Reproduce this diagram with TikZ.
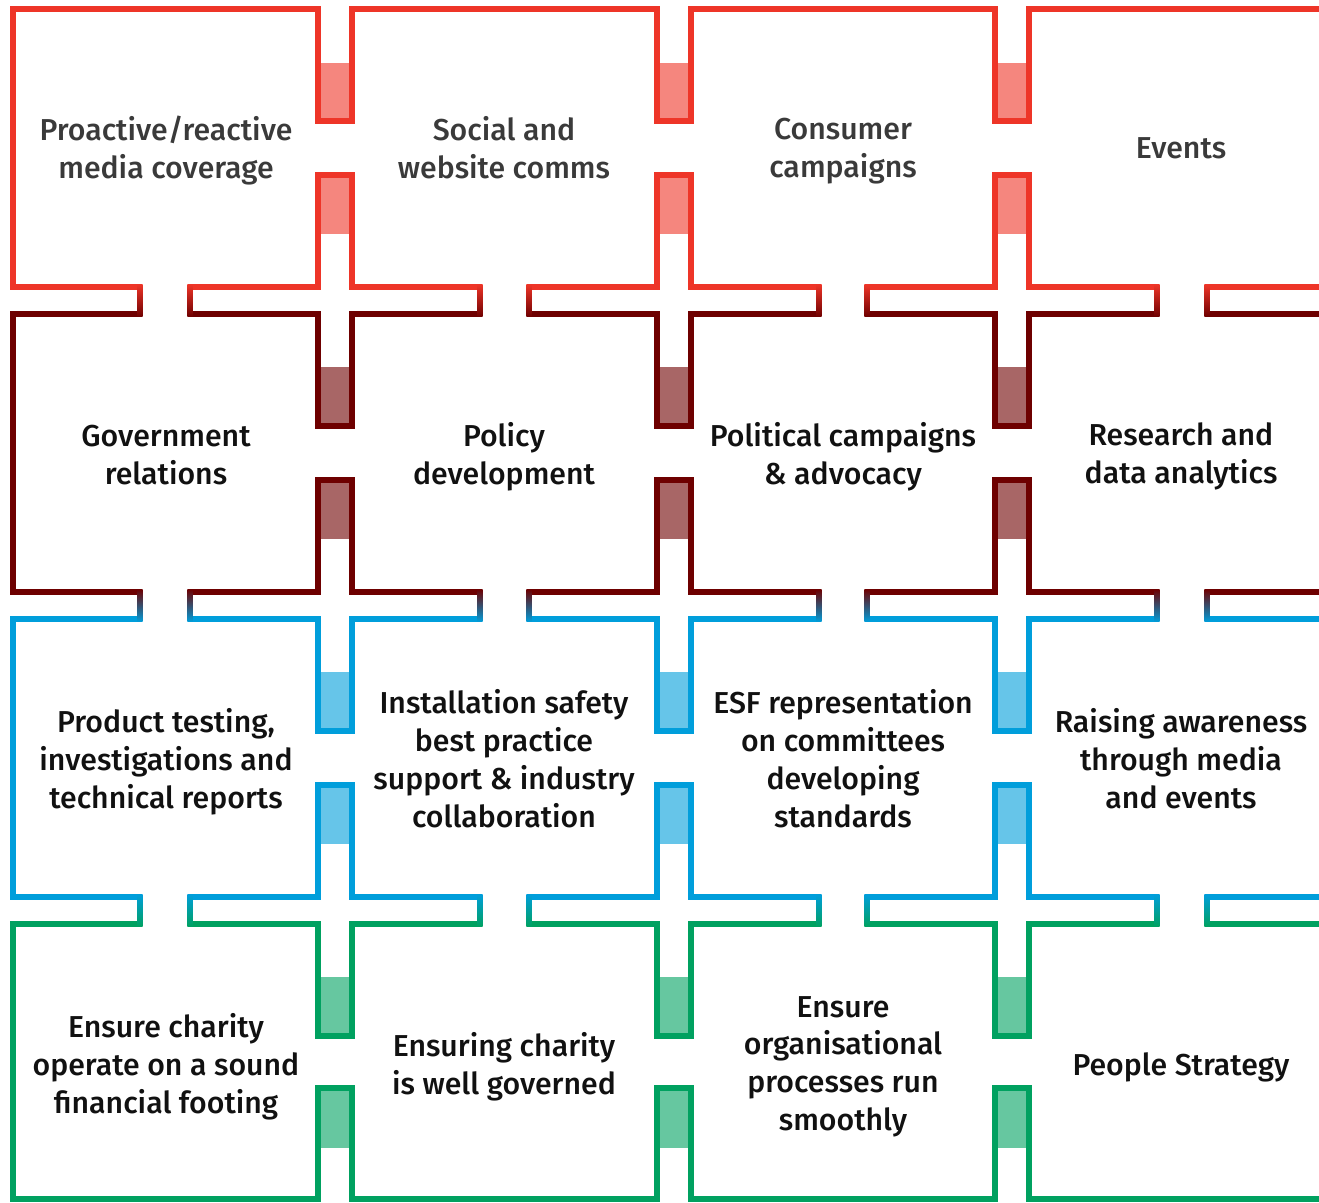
\documentclass[tikz,border=0pt]{standalone}
\usepackage{fontspec}
\setmainfont{Fira Sans}
\newfontfamily\medfont{Fira Sans Medium}
\definecolor{rowA}{RGB}{238,53,40}
\definecolor{rowB}{RGB}{110,0,0}
\definecolor{rowC}{RGB}{0,158,219}
\definecolor{rowD}{RGB}{0,161,96}
\definecolor{inkA}{RGB}{58,58,58}
\definecolor{inkB}{RGB}{17,17,17}
\tikzset{
	outline/.style={line width=1.55pt, line join=miter},
	celltext/.style={align=center, text=inkB, text depth=0pt, font={\medfont\fontsize{8.6}{10.8}\selectfont}},
	toptext/.style={celltext, text=inkA}
}

\begin{document}
\begin{tikzpicture}[x=0.01cm, y=-0.01cm]
\useasboundingbox (0,0) rectangle (1319,1202);
\clip (0,0) rectangle (1319,1202);
%========================
% Borders: top, left, bottom
%========================
\foreach \cx in {335,674,1012}{
	\fill[fill=rowA!60!white] (\cx-17,63) rectangle (\cx+17,121);
	\fill[fill=rowD!60!white] (\cx-17,1088) rectangle (\cx+17,1148);
}
\draw[outline, draw=rowA] (140,287) -| (13,9) -| (318,121) -| (352,9) -| (657,121) -| (691,9) -| (995,121) -| (1029,9) -- (1319,9);
\draw[outline, draw=rowB] (140,314) -| (13,592) -- (140,592);
\draw[outline, draw=rowC] (140,619) -| (13,897) -- (140,897);
\draw[outline, draw=rowD] (140,924) -| (13,1199) -| (318,1088) -| (352,1199) -| (657,1088) -| (691,1199) -| (995,1088) -| (1029,1199) -- (1319,1199);

%========================
% Crosses between the rows
%========================
\foreach \cy/\up/\dn in {300.5/rowA/rowB, 605.5/rowB/rowC, 910.5/rowC/rowD}{
	% arms running out at the right edge
	\draw[outline, draw=\up] (1319,\cy-13.5) -- (1207,\cy-13.5);
	\draw[outline, draw=\dn] (1319,\cy+13.5) -- (1207,\cy+13.5);
	\foreach \cx in {335,674,1012}{
		\fill[fill=\up!60!white] (\cx-17,\cy-125.5) rectangle (\cx+17,\cy-66.5);
		\fill[fill=\dn!60!white] (\cx-17,\cy+66.5) rectangle (\cx+17,\cy+125.5);
		\draw[outline, draw=\up] (\cx-145,\cy-13.5) -| (\cx-17,\cy-125.5) -| (\cx+17,\cy-13.5) -- (\cx+145,\cy-13.5);
		\draw[outline, draw=\dn] (\cx-145,\cy+13.5) -| (\cx-17,\cy+125.5) -| (\cx+17,\cy+13.5) -- (\cx+145,\cy+13.5);
	}
	% arm ends fade from one row colour to the next
	\foreach \ex in {140,190,480,529,819,867,1157,1207}{
		\shade[top color=\up, bottom color=\dn] (\ex-2.7,\cy-16.2) rectangle (\ex+2.7,\cy+16.2);
	}
}

%========================
% Cell texts
%========================
\node[toptext] (media) at (166,147.5) {Proactive/reactive\\media coverage};
\node[toptext] (social) at (504,147.5) {Social and\\website comms};
\node[toptext] (consumer) at (843,148) {Consumer\\campaigns};
\node[toptext] (events) at (1181,148) {Events};

\node[celltext] (government) at (166,455) {Government\\relations};
\node[celltext] (policy) at (504,453.5) {Policy\\development};
\node[celltext] (political) at (843,453.5) {Political campaigns\\\& advocacy};
\node[celltext] (research) at (1181,453.5) {Research and\\data analytics};

\node[celltext] (testing) at (166,758) {Product testing,\\investigations and\\technical reports};
\node[celltext] (installation) at (504,758) {Installation safety\\best practice\\support \& industry\\collaboration};
\node[celltext] (esf) at (843,758) {ESF representation\\on committees\\developing\\standards};
\node[celltext] (awareness) at (1181,758) {Raising awareness\\through media\\and events};

\node[celltext] (finance) at (166,1063.5) {Ensure charity\\operate on a sound\\financial footing};
\node[celltext] (governed) at (504,1063.5) {Ensuring charity\\is well governed};
\node[celltext] (processes) at (843,1063.5) {Ensure\\organisational\\processes run\\smoothly};
\node[celltext] (people) at (1181,1064) {People Strategy};
\end{tikzpicture}
\end{document}
